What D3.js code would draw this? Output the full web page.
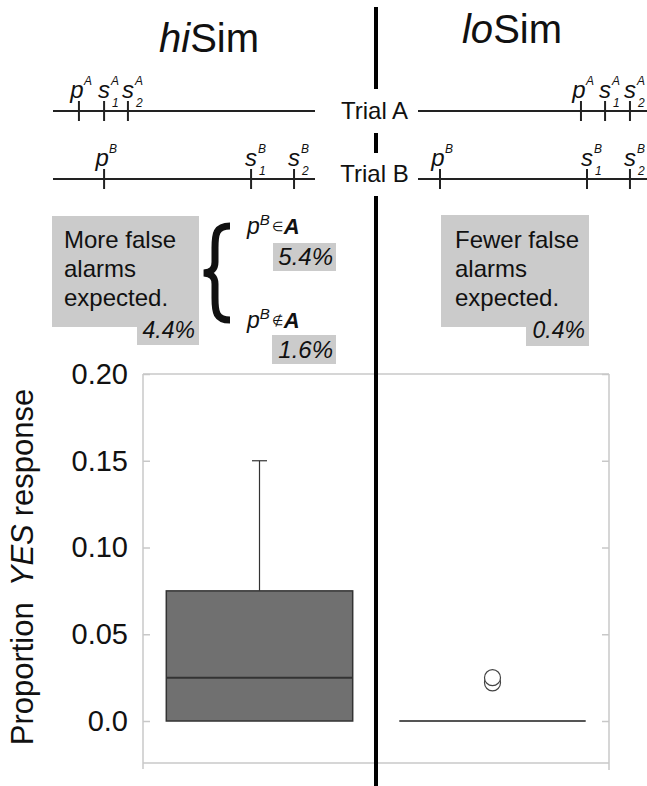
<!DOCTYPE html>
<html>
<head>
<meta charset="utf-8">
<script src="https://cdn.jsdelivr.net/npm/d3@7/dist/d3.min.js"></script>
<style>
  html, body { margin: 0; padding: 0; background: #fff; }
  svg { display: block; font-family: "Liberation Sans", Arial, sans-serif; }
</style>
</head>
<body>
<svg id="chart" width="647" height="786"></svg>
<script>
// ---------------- DATA ----------------
const conditions = ["hiSim", "loSim"];
const conditionPrefix = ["hi", "lo"];
// feature positions on the trial lines (0-100 feature space)
const hiTrialA = [9.9, 19.5, 28.6];
const hiTrialB = [19.5, 75.6, 92.0];
const loTrialA = [62.2, 71.4, 80.9];
const loTrialB = [8.4, 64.5, 80.9];
const featureLetters = ["p", "s", "s"];
const featureSubs = ["", "1", "2"];
const trialNames = ["Trial A", "Trial B"];
const trialSupers = ["A", "B"];
// box-plot statistics (proportion YES response)
const boxMin = [0, 0];
const boxQ1 = [0, 0];
const boxMedian = [0.025, 0];
const boxQ3 = [0.075, 0];
const boxMax = [0.15, 0];
const boxOutliers = [[], [0.022, 0.025]];
const yTickValues = [0, 0.05, 0.10, 0.15, 0.20];
const yTickLabels = ["0.0", "0.05", "0.10", "0.15", "0.20"];
const overallRates = ["4.4%", "0.4%"];
const subRates = ["5.4%", "1.6%"];
const boxTexts = [["More false", "alarms", "expected."], ["Fewer false", "alarms", "expected."]];

// ---------------- DRAW ----------------
const svg = d3.select("#chart");
svg.append("rect").attr("width", 647).attr("height", 786).attr("fill", "#fff");

// Titles
const titles = [{x: 209, y: 52}, {x: 512, y: 43}];
conditions.forEach((c, i) => {
  const t = svg.append("text").attr("x", titles[i].x).attr("y", titles[i].y)
    .attr("text-anchor", "middle").attr("font-size", 40).attr("fill", "#111");
  t.append("tspan").attr("font-style", "italic").text(conditionPrefix[i]);
  t.append("tspan").text(c.slice(2));
});

// Trial lines
const lineY = [111, 179];
const xLeft = d3.scaleLinear().domain([0, 100]).range([53, 315]);
const xRight = d3.scaleLinear().domain([0, 100]).range([418, 680]);
const panels = [
  {scale: xLeft, trials: [hiTrialA, hiTrialB], x0: 53, x1: 315},
  {scale: xRight, trials: [loTrialA, loTrialB], x0: 418, x1: 647}
];
panels.forEach(p => {
  p.trials.forEach((vals, ti) => {
    const ly = lineY[ti];
    svg.append("line").attr("x1", p.x0).attr("x2", p.x1).attr("y1", ly).attr("y2", ly)
      .attr("stroke", "#222").attr("stroke-width", 2);
    vals.forEach((v, fi) => {
      const tx = p.scale(v);
      svg.append("line").attr("x1", tx).attr("x2", tx).attr("y1", ly - 10).attr("y2", ly + 10)
        .attr("stroke", "#222").attr("stroke-width", 2);
      const base = ly - 13;
      const isP = featureLetters[fi] === "p";
      const cx = isP ? tx - 2 : tx;
      svg.append("text").attr("x", cx).attr("y", base).attr("text-anchor", "middle")
        .attr("font-size", 24).attr("font-style", "italic").attr("fill", "#111")
        .text(featureLetters[fi]);
      svg.append("text").attr("x", cx + 7).attr("y", base - 13)
        .attr("font-size", 12).attr("font-style", "italic").attr("fill", "#111")
        .text(trialSupers[ti]);
      if (featureSubs[fi]) {
        svg.append("text").attr("x", cx + 8).attr("y", base + 9)
          .attr("font-size", 12).attr("font-style", "italic").attr("fill", "#111")
          .text(featureSubs[fi]);
      }
    });
  });
});
trialNames.forEach((n, i) => {
  svg.append("text").attr("x", 374.5).attr("y", [119, 182][i]).attr("text-anchor", "middle")
    .attr("font-size", 24).attr("fill", "#111").text(n);
});

// Grey annotation boxes
const grey = "#cbcbcb";
const boxes = [
  {x0: 52, y0: 216, x1: 199, y1: 327, tx0: 137, ty1: 345, textX: 64},
  {x0: 441, y0: 215, x1: 589, y1: 327, tx0: 526, ty1: 346, textX: 455}
];
boxes.forEach((b, i) => {
  svg.append("rect").attr("x", b.x0).attr("y", b.y0).attr("width", b.x1 - b.x0).attr("height", b.y1 - b.y0).attr("fill", grey);
  svg.append("rect").attr("x", b.tx0).attr("y", b.y1 - 1).attr("width", b.x1 - b.tx0).attr("height", b.ty1 - b.y1 + 1).attr("fill", grey);
  boxTexts[i].forEach((line, li) => {
    svg.append("text").attr("x", b.textX).attr("y", 248 + li * 29)
      .attr("font-size", 24).attr("fill", "#111").text(line);
  });
  svg.append("text").attr("x", b.x1 - 4).attr("y", 338).attr("text-anchor", "end")
    .attr("font-size", 23).attr("font-style", "italic").attr("fill", "#111").text(overallRates[i]);
});

// Brace
svg.append("path")
  .attr("d", "M230,226 C216,226 215,234 215,248 L215,262 C215,269 212,272 204,273 C212,274 215,277 215,284 L215,298 C215,312 216,320 230,320")
  .attr("fill", "none").attr("stroke", "#111").attr("stroke-width", 7);

// Sub-condition labels
const subLabels = [{y: 234, sym: "\u2208", box: [273, 243, 336, 271]}, {y: 328, sym: "\u2209", box: [272, 335, 336, 364]}];
subLabels.forEach((s, i) => {
  const t = svg.append("text").attr("x", 247).attr("y", s.y).attr("fill", "#111").attr("font-size", 23);
  t.append("tspan").attr("font-style", "italic").text("p");
  t.append("tspan").attr("font-style", "italic").attr("font-size", 15).attr("dy", -9).text("B");
  t.append("tspan").attr("font-size", 13).attr("dx", 2).attr("dy", 6).text(s.sym);
  t.append("tspan").attr("font-style", "italic").attr("font-weight", "bold").attr("font-size", 22).attr("dx", 1).attr("dy", 3).text("A");
  svg.append("rect").attr("x", s.box[0]).attr("y", s.box[1]).attr("width", s.box[2] - s.box[0]).attr("height", s.box[3] - s.box[1]).attr("fill", grey);
  svg.append("text").attr("x", s.box[2] - 3).attr("y", s.box[3] - 6).attr("text-anchor", "end")
    .attr("font-size", 24).attr("font-style", "italic").attr("fill", "#111").text(subRates[i]);
});

// ---------------- BOX PLOT ----------------
const plotL = 143, plotR = 609, plotT = 374, plotB = 763;
const y = d3.scaleLinear().domain([-0.0242, 0.20]).range([plotB, plotT]);
const x = d3.scaleBand().domain(conditions).range([plotL, plotR]).paddingInner(0.2).paddingOuter(0.1);
const frameColor = "#c8c8c8";

const g = svg.append("g");
// frame
g.append("line").attr("x1", plotL).attr("x2", plotR).attr("y1", plotT).attr("y2", plotT).attr("stroke", frameColor).attr("stroke-width", 1.5);
g.append("line").attr("x1", plotL).attr("x2", plotR).attr("y1", plotB).attr("y2", plotB).attr("stroke", frameColor).attr("stroke-width", 1.5);
g.append("line").attr("x1", plotL).attr("x2", plotL).attr("y1", plotT).attr("y2", plotB + 6).attr("stroke", frameColor).attr("stroke-width", 1.5);
g.append("line").attr("x1", plotR).attr("x2", plotR).attr("y1", plotT).attr("y2", plotB + 7).attr("stroke", frameColor).attr("stroke-width", 1.5);

const yAxis = d3.axisLeft(y).tickValues(yTickValues).tickFormat((d, i) => yTickLabels[i]).tickSizeInner(-7).tickSizeOuter(0).tickPadding(15);
const ya = g.append("g").attr("transform", `translate(${plotL},0)`).call(yAxis);
ya.select(".domain").remove();
ya.selectAll(".tick line").attr("stroke", frameColor).attr("stroke-width", 1.5);
ya.selectAll(".tick text").attr("font-size", 29).attr("fill", "#111").attr("font-family", "Liberation Sans, Arial, sans-serif");

const yAxisR = d3.axisRight(y).tickValues(yTickValues).tickFormat("").tickSizeInner(-7).tickSizeOuter(0);
const yr = g.append("g").attr("transform", `translate(${plotR},0)`).call(yAxisR);
yr.select(".domain").remove();
yr.selectAll(".tick line").attr("stroke", frameColor).attr("stroke-width", 1.5);

// y title
const yt = svg.append("text").attr("transform", "translate(33,567) rotate(-90)")
  .attr("text-anchor", "middle").attr("font-size", 31).attr("fill", "#111");
yt.append("tspan").text("Proportion");
yt.append("tspan").attr("dx", 16).attr("font-style", "italic").text("YES");
yt.append("tspan").attr("dx", 8).text("response");

// boxes
conditions.forEach((c, i) => {
  const bx = x(c), bw = x.bandwidth(), cx = bx + bw / 2;
  if (boxMax[i] > boxQ3[i]) {
    g.append("line").attr("x1", cx).attr("x2", cx).attr("y1", y(boxQ3[i])).attr("y2", y(boxMax[i]))
      .attr("stroke", "#333").attr("stroke-width", 1.2);
    g.append("line").attr("x1", cx - 7.5).attr("x2", cx + 7.5).attr("y1", y(boxMax[i])).attr("y2", y(boxMax[i]))
      .attr("stroke", "#333").attr("stroke-width", 1.2);
  }
  if (boxQ3[i] > boxQ1[i]) {
    g.append("rect").attr("x", bx).attr("y", y(boxQ3[i])).attr("width", bw).attr("height", y(boxQ1[i]) - y(boxQ3[i]))
      .attr("fill", "#707070").attr("stroke", "#333").attr("stroke-width", 1.5);
    g.append("line").attr("x1", bx).attr("x2", bx + bw).attr("y1", y(boxMedian[i])).attr("y2", y(boxMedian[i]))
      .attr("stroke", "#333").attr("stroke-width", 2);
  } else {
    g.append("line").attr("x1", bx).attr("x2", bx + bw).attr("y1", y(boxMedian[i])).attr("y2", y(boxMedian[i]))
      .attr("stroke", "#555").attr("stroke-width", 2);
  }
  boxOutliers[i].forEach(v => {
    g.append("circle").attr("cx", cx).attr("cy", y(v)).attr("r", 8)
      .attr("fill", "#fff").attr("stroke", "#444").attr("stroke-width", 1.2);
  });
});

// divider
const divX = 376;
[[7, 89], [133, 153], [196, 786]].forEach(s => {
  svg.append("line").attr("x1", divX).attr("x2", divX).attr("y1", s[0]).attr("y2", s[1])
    .attr("stroke", "#000").attr("stroke-width", 4);
});
</script>
</body>
</html>
